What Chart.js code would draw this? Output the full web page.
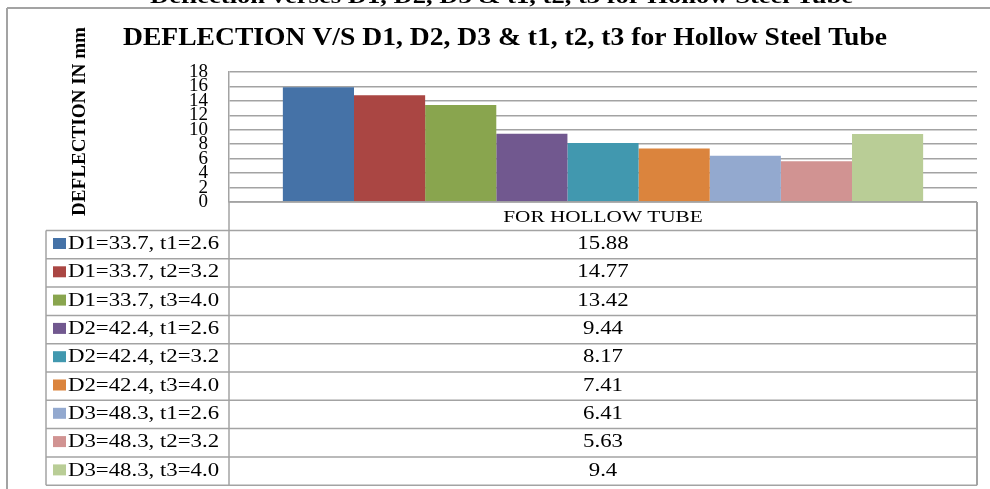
<!DOCTYPE html>
<html>
<head>
<meta charset="utf-8">
<title>Deflection for Hollow Steel Tube</title>
<script src="https://cdn.jsdelivr.net/npm/chart.js@4.4.0/dist/chart.umd.min.js"></script>
<style>
  html, body { margin: 0; padding: 0; background: #fff; }
  #wrap { width: 990px; height: 489px; }
</style>
</head>
<body>
<div id="wrap"><canvas id="deflectionChart" width="990" height="489"></canvas></div>
<script>
// tube sizes (outer diameter D, wall thickness t) and measured deflection in mm
const seriesLabels = [
  'D1=33.7, t1=2.6', 'D1=33.7, t2=3.2', 'D1=33.7, t3=4.0',
  'D2=42.4, t1=2.6', 'D2=42.4, t2=3.2', 'D2=42.4, t3=4.0',
  'D3=48.3, t1=2.6', 'D3=48.3, t2=3.2', 'D3=48.3, t3=4.0'
];
const deflections = [15.88, 14.77, 13.42, 9.44, 8.17, 7.41, 6.41, 5.63, 9.4];
const seriesColors = [
  '#4572a7', '#aa4643', '#89a54e', '#71588f', '#4198af',
  '#db843d', '#93a9cf', '#d19392', '#b9cd96'
];
const categoryLabels = ['FOR HOLLOW TUBE'];
const yTickValues = [0, 2, 4, 6, 8, 10, 12, 14, 16, 18];

const pageTitle = 'Deflection verses D1, D2, D3 & t1, t2, t3 for Hollow Steel Tube';
const chartTitle = 'DEFLECTION V/S D1, D2, D3 & t1, t2, t3 for Hollow Steel Tube';
const yAxisTitle = 'DEFLECTION IN mm';

const SERIF = '"Liberation Serif", "Times New Roman", serif';
const LINE = '#a3a3a3';

// draw text squeezed/stretched horizontally to a given width
function fitText(ctx, text, x, y, width, align) {
  const w = ctx.measureText(text).width;
  ctx.save();
  ctx.translate(x, y);
  ctx.scale(width / w, 1);
  ctx.textAlign = align || 'left';
  ctx.fillText(text, 0, 0);
  ctx.restore();
}

function hLine(ctx, x1, x2, y) {
  ctx.beginPath();
  ctx.moveTo(x1, y);
  ctx.lineTo(x2, y);
  ctx.stroke();
}

function vLine(ctx, x, y1, y2) {
  ctx.beginPath();
  ctx.moveTo(x, y1);
  ctx.lineTo(x, y2);
  ctx.stroke();
}

// titles, outer frame and the data table under the plot
const tablePlugin = {
  id: 'dataTable',
  afterDraw(chart) {
    const { ctx, chartArea, scales } = chart;
    const left = chartArea.left;
    const right = chartArea.right;
    const top = chartArea.bottom;
    const headerH = 28.5;
    const rowH = 28.3;
    const keyLeft = 46;
    const stretch = 1.2;
    const tableBottom = top + headerH + rowH * seriesLabels.length;

    ctx.save();
    ctx.fillStyle = '#000';
    ctx.textBaseline = 'alphabetic';

    // page heading that runs off the top edge
    ctx.font = 'bold 22px ' + SERIF;
    fitText(ctx, pageTitle, 150, 3, 703);

    // outer frame
    ctx.strokeStyle = LINE;
    ctx.lineWidth = 2;
    hLine(ctx, 7, 990, 8);
    vLine(ctx, 7, 8, 489);

    // chart title
    ctx.font = 'bold 26px ' + SERIF;
    fitText(ctx, chartTitle, 123, 45, 764);

    // rotated axis title
    ctx.save();
    ctx.translate(85, 216);
    ctx.rotate(-Math.PI / 2);
    ctx.font = 'bold 18px ' + SERIF;
    fitText(ctx, yAxisTitle, 0, 0, 189);
    ctx.restore();

    // table grid
    ctx.strokeStyle = LINE;
    ctx.lineWidth = 1.5;
    hLine(ctx, left, right, top);
    for (let i = 0; i <= seriesLabels.length; i++) {
      hLine(ctx, keyLeft, right, top + headerH + rowH * i);
    }
    vLine(ctx, left, top, tableBottom);
    vLine(ctx, keyLeft, top + headerH, tableBottom);
    ctx.lineWidth = 2;
    vLine(ctx, right, top, tableBottom);

    const cx = scales.x.getPixelForValue(0);

    // category header
    ctx.font = '17px ' + SERIF;
    let w = ctx.measureText(categoryLabels[0]).width * 1.25;
    fitText(ctx, categoryLabels[0], cx, top + 19.7, w, 'center');

    // legend keys, series names and values
    ctx.font = '19px ' + SERIF;
    chart.data.datasets.forEach((ds, i) => {
      const rowTop = top + headerH + rowH * i;
      ctx.fillStyle = ds.backgroundColor;
      ctx.fillRect(53, rowTop + 7.5, 13, 11);
      ctx.fillStyle = '#000';
      w = ctx.measureText(ds.label).width * stretch;
      fitText(ctx, ds.label, 68, rowTop + 18.6, w);
      const val = String(ds.data[0]);
      w = ctx.measureText(val).width * stretch;
      fitText(ctx, val, cx, rowTop + 18.6, w, 'center');
    });

    ctx.restore();
  }
};

const datasets = seriesLabels.map((label, i) => ({
  label: label,
  data: [deflections[i]],
  backgroundColor: seriesColors[i],
  borderWidth: 0,
  categoryPercentage: 0.856,
  barPercentage: 1
}));

new Chart(document.getElementById('deflectionChart'), {
  type: 'bar',
  data: { labels: categoryLabels, datasets: datasets },
  options: {
    responsive: false,
    animation: false,
    devicePixelRatio: 1,
    layout: { padding: { top: 72, right: 13, bottom: 287, left: 0 } },
    plugins: {
      legend: { display: false },
      title: { display: false },
      tooltip: { enabled: false }
    },
    scales: {
      x: { display: false },
      y: {
        min: 0,
        max: 18,
        afterFit(scale) { scale.width = 229; },
        afterBuildTicks(scale) { scale.ticks = yTickValues.map(v => ({ value: v })); },
        ticks: {
          autoSkip: false,
          padding: 21,
          color: '#000',
          font: { family: SERIF, size: 19 }
        },
        grid: { color: LINE, lineWidth: 1.5, drawTicks: false },
        border: { color: LINE, width: 1.5 }
      }
    }
  },
  plugins: [tablePlugin]
});
</script>
</body>
</html>
